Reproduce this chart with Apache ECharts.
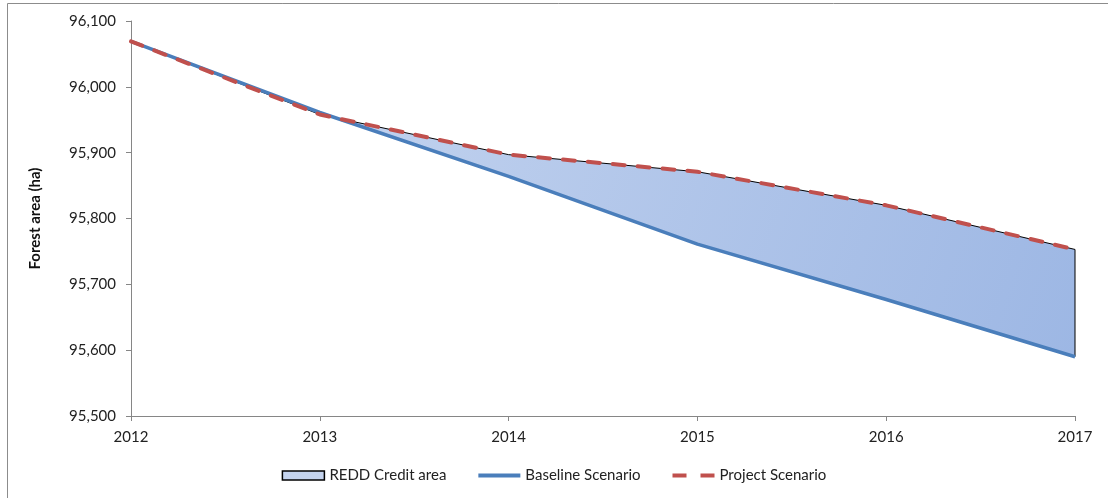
<!DOCTYPE html>
<html>
<head>
<meta charset="utf-8">
<script src="https://cdn.jsdelivr.net/npm/echarts@6/dist/echarts.min.js"></script>
<style>
  html, body { margin: 0; padding: 0; background: #fff; }
  #chart { width: 1108px; height: 498px; }
</style>
</head>
<body>
<div id="chart"></div>
<script>
// data
const years = [2012, 2013, 2014, 2015, 2016, 2017];
const baseline = [96069, 95961, 95864, 95761, 95677, 95590];
const project = [96069, 95958, 95897, 95871, 95820, 95753];
const yTicks = [95500, 95600, 95700, 95800, 95900, 96000, 96100];

const font = "Lato, 'Open Sans', sans-serif";
const chart = echarts.init(document.getElementById("chart"));

// polygon between the two scenarios
function renderCredit(params, api) {
  const top = years.map((y, i) => api.coord([y, project[i]]));
  const bottom = years.map((y, i) => api.coord([y, baseline[i]])).reverse();
  return {
    type: "polygon",
    shape: { points: top.concat(bottom) },
    style: {
      fill: new echarts.graphic.LinearGradient(0, 0, 1, 1, [
        { offset: 0, color: "#cbd9f1" },
        { offset: 1, color: "#9db7e4" },
      ]),
      stroke: "#000",
      lineWidth: 1,
    },
  };
}

chart.setOption({
  animation: false,
  backgroundColor: "#fff",
  graphic: [
    {
      type: "rect",
      shape: { x: 7.5, y: 3.5, width: 1120, height: 520 },
      style: { fill: "none", stroke: "#8c8c8c", lineWidth: 1 },
    },
  ],
  grid: { left: 131, right: 33, top: 21, bottom: 82 },
  legend: {
    bottom: 10,
    left: "center",
    itemGap: 30,
    itemWidth: 42,
    itemHeight: 9,
    textStyle: { fontFamily: font, fontSize: 15, color: "#222" },
    data: [
      {
        name: "REDD Credit area",
        icon: "rect",
        itemStyle: { color: "#c4d3ee", borderColor: "#000", borderWidth: 1.5 },
      },
      {
        name: "Baseline Scenario",
        itemStyle: { opacity: 0 },
        lineStyle: { width: 4, color: "#4a7ebb" },
      },
      {
        name: "Project Scenario",
        itemStyle: { opacity: 0 },
        lineStyle: { width: 4, color: "#c0504d", type: [14, 14], cap: "butt" },
      },
    ],
  },
  xAxis: {
    type: "value",
    min: 2012,
    max: 2017,
    interval: 1,
    splitLine: { show: false },
    axisLine: { lineStyle: { color: "#868686" } },
    axisTick: { show: true, length: 5, lineStyle: { color: "#868686" } },
    axisLabel: {
      margin: 14,
      fontFamily: font,
      fontSize: 15,
      color: "#222",
      formatter: (v) => String(v),
    },
  },
  yAxis: {
    type: "value",
    min: yTicks[0],
    max: yTicks[yTicks.length - 1],
    interval: 100,
    name: "Forest area (ha)",
    nameLocation: "middle",
    nameGap: 88,
    nameTextStyle: { fontFamily: font, fontSize: 15, fontWeight: "bold", color: "#111" },
    splitLine: { show: false },
    axisLine: { show: true, lineStyle: { color: "#868686" } },
    axisTick: { show: true, length: 5, lineStyle: { color: "#868686" } },
    axisLabel: {
      margin: 15,
      fontFamily: font,
      fontSize: 15,
      color: "#222",
      formatter: (v) => v.toLocaleString("en-US"),
    },
  },
  series: [
    {
      name: "REDD Credit area",
      type: "custom",
      renderItem: renderCredit,
      data: [[years[0], baseline[0]]],
      itemStyle: { color: "#c4d3ee" },
      z: 1,
    },
    {
      name: "Baseline Scenario",
      type: "line",
      data: years.map((y, i) => [y, baseline[i]]),
      symbol: "none",
      lineStyle: { color: "#4a7ebb", width: 3.5 },
      itemStyle: { color: "#4a7ebb" },
      z: 3,
    },
    {
      name: "Project Scenario",
      type: "line",
      data: years.map((y, i) => [y, project[i]]),
      symbol: "none",
      lineStyle: { color: "#c0504d", width: 4, type: [12, 13], cap: "round" },
      itemStyle: { color: "#c0504d" },
      z: 4,
    },
  ],
});
</script>
</body>
</html>
